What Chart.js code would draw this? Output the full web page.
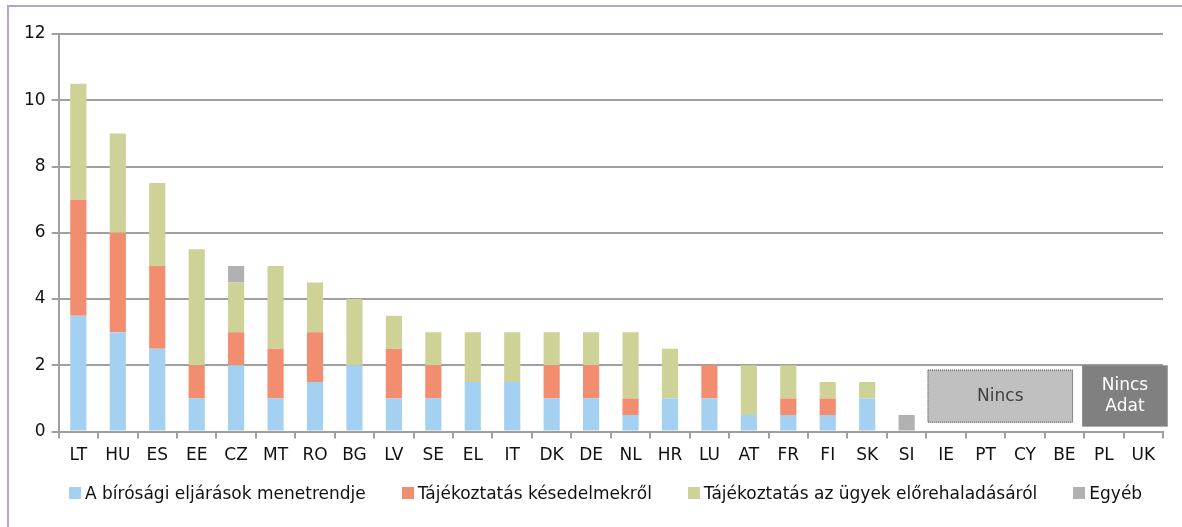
<!DOCTYPE html>
<html>
<head>
<meta charset="utf-8">
<script src="https://cdn.jsdelivr.net/npm/chart.js@4/dist/chart.umd.min.js"></script>
<style>
  html, body { margin: 0; padding: 0; background: #fff; overflow: hidden; }
  #frame {
    position: absolute; left: 7px; top: 5px; width: 1200px; height: 560px;
    border-left: 2px solid #b6a2cf; border-top: 2px solid #b6a2cf;
  }
  #wrap { position: absolute; left: 0; top: 0; width: 1182px; height: 527px; }
  #legend {
    position: absolute; left: 69px; top: 483px; display: flex; gap: 36px;
    font-family: 'DejaVu Sans', sans-serif; font-size: 17px; color: #111; white-space: nowrap;
  }
  #legend .item { display: flex; align-items: center; }
  #legend .sw { width: 12px; height: 12px; margin-right: 4px; }
</style>
</head>
<body>
<div id="frame"></div>
<div id="wrap"><canvas id="myChart"></canvas></div>
<div id="legend"></div>
<script>
const countries = ['LT','HU','ES','EE','CZ','MT','RO','BG','LV','SE','EL','IT','DK','DE','NL','HR','LU','AT','FR','FI','SK','SI','IE','PT','CY','BE','PL','UK'];

const schedule  = [3.5, 3, 2.5, 1, 2, 1, 1.5, 2, 1, 1, 1.5, 1.5, 1, 1, 0.5, 1, 1, 0.5, 0.5, 0.5, 1, 0, 0, 0, 0, 0, 0, 0];
const delays    = [3.5, 3, 2.5, 1, 1, 1.5, 1.5, 0, 1.5, 1, 0, 0, 1, 1, 0.5, 0, 1, 0, 0.5, 0.5, 0, 0, 0, 0, 0, 0, 0, 0];
const progress  = [3.5, 3, 2.5, 3.5, 1.5, 2.5, 1.5, 2, 1, 1, 1.5, 1.5, 1, 1, 2, 1.5, 0, 1.5, 1, 0.5, 0.5, 0, 0, 0, 0, 0, 0, 0];
const other     = [0, 0, 0, 0, 0.5, 0, 0, 0, 0, 0, 0, 0, 0, 0, 0, 0, 0, 0, 0, 0, 0, 0.5, 0, 0, 0, 0, 0, 0];

const seriesLabels = ['A bírósági eljárások menetrendje', 'Tájékoztatás késedelmekről', 'Tájékoztatás az ügyek előrehaladásáról', 'Egyéb'];
const seriesColors = ['#a4d1f1', '#f28e6f', '#cfd297', '#b1b1b1'];

const yTicks = [0, 2, 4, 6, 8, 10, 12];

// "no data" boxes, in axis units: [xFrom, xTo, yFrom, yTo]
const noDataBoxes = [
  { x0: 21.53, x1: 25.22, y0: 0.27, y1: 1.87, fill: '#c0c0c0', dotted: true, text: ['Nincs'], color: '#404040' },
  { x0: 25.45, x1: 27.62, y0: 0.15, y1: 2.0, fill: '#808080', dotted: false, text: ['Nincs', 'Adat'], color: '#ffffff' }
];

const FONT = "'DejaVu Sans', sans-serif";

const boxPlugin = {
  id: 'noDataBoxes',
  afterDatasetsDraw(chart) {
    const { ctx, scales: { x, y } } = chart;
    const step = x.getPixelForValue(1) - x.getPixelForValue(0);
    noDataBoxes.forEach(b => {
      const px0 = x.getPixelForValue(0) + b.x0 * step;
      const px1 = x.getPixelForValue(0) + b.x1 * step;
      const py0 = y.getPixelForValue(b.y1);
      const py1 = y.getPixelForValue(b.y0);
      ctx.save();
      ctx.fillStyle = b.fill;
      ctx.fillRect(px0, py0, px1 - px0, py1 - py0);
      if (b.dotted) {
        ctx.strokeStyle = '#555';
        ctx.lineWidth = 1;
        ctx.setLineDash([1, 1]);
        ctx.strokeRect(px0 + 0.5, py0 + 0.5, px1 - px0 - 1, py1 - py0 - 1);
      }
      ctx.fillStyle = b.color;
      ctx.font = '17px ' + FONT;
      ctx.textAlign = 'center';
      ctx.textBaseline = 'middle';
      const cx = (px0 + px1) / 2, cy = (py0 + py1) / 2;
      const lh = 21;
      b.text.forEach((t, i) => {
        ctx.fillText(t, cx, cy + (i - (b.text.length - 1) / 2) * lh);
      });
      ctx.restore();
    });
  }
};

const datasets = [schedule, delays, progress, other].map((d, i) => ({
  label: seriesLabels[i],
  data: d,
  backgroundColor: seriesColors[i],
  borderWidth: 0,
  barPercentage: 0.41,
  categoryPercentage: 1.0
}));

// HTML legend
const legendEl = document.getElementById('legend');
seriesLabels.forEach((lab, i) => {
  const item = document.createElement('div');
  item.className = 'item';
  item.innerHTML = '<span class="sw" style="background:' + seriesColors[i] + '"></span><span>' + lab + '</span>';
  legendEl.appendChild(item);
});

new Chart(document.getElementById('myChart'), {
  type: 'bar',
  data: { labels: countries, datasets },
  plugins: [boxPlugin],
  options: {
    responsive: true,
    maintainAspectRatio: false,
    animation: false,
    layout: { padding: { left: 18, right: 19, top: 34, bottom: 54 } },
    plugins: {
      tooltip: { enabled: false },
      legend: { display: false }
    },
    scales: {
      x: {
        stacked: true,
        grid: { display: true, offset: true, drawOnChartArea: false, drawTicks: true, tickLength: 7, color: '#a0a0a0', lineWidth: 2 },
        border: { color: '#a0a0a0', width: 2 },
        ticks: { color: '#111', font: { family: FONT, size: 17 }, padding: 7, maxRotation: 0, autoSkip: false }
      },
      y: {
        stacked: true,
        min: 0, max: 12,
        afterBuildTicks(axis) { axis.ticks = yTicks.map(v => ({ value: v })); },
        grid: { color: '#a0a0a0', lineWidth: 2, tickLength: 7 },
        border: { color: '#a0a0a0', width: 2 },
        ticks: { color: '#111', font: { family: FONT, size: 17 }, padding: 6 }
      }
    }
  }
});
</script>
</body>
</html>
